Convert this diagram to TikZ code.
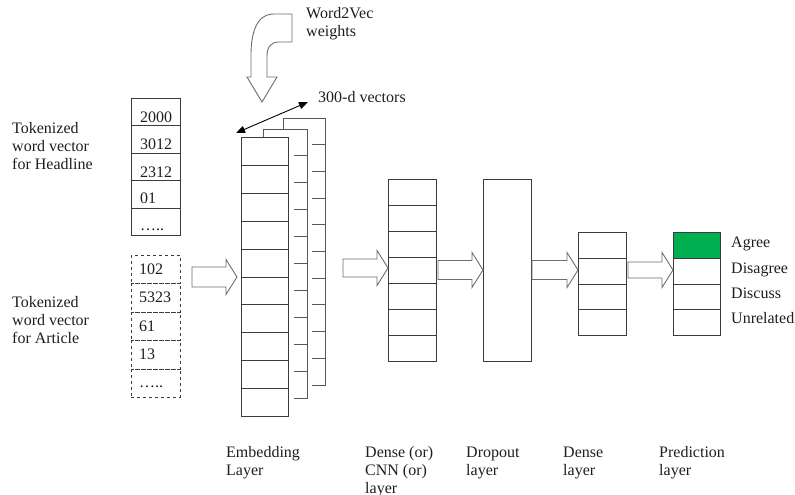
\documentclass[tikz,border=0pt]{standalone}
\usepackage{fontspec}
\setmainfont{Liberation Serif}
\usetikzlibrary{arrows.meta}
\definecolor{boxc}{HTML}{3C3C3C}
\definecolor{arrc}{HTML}{6E6E6E}
\definecolor{txtc}{HTML}{1E1E1E}
\definecolor{agreec}{HTML}{00B050}
\newcommand\blockarr[4]{% x1, x2, yc, half body
  \draw[barrow] (#1,#3-#4) -- (#2-11,#3-#4) -- (#2-11,#3-17.5) -- (#2,#3)
    -- (#2-11,#3+17.5) -- (#2-11,#3+#4) -- (#1,#3+#4) -- cycle;}
\begin{document}
\begin{tikzpicture}[x=1pt,y=-1pt,
  font=\fontsize{16}{18}\selectfont, text=txtc,
  cell/.style={draw=boxc, line width=0.9pt, inner sep=0pt, anchor=north west},
  dcell/.style={cell, dashed},
  lbl/.style={anchor=base west, inner sep=0pt, align=left},
  barrow/.style={draw=arrc, line width=0.9pt, fill=white},
  layer/.style={draw=arrc!80!black, line width=0.9pt}]
\useasboundingbox (0,0) rectangle (795,495);

% Headline tokens
\foreach \i/\t/\o in {1/2000/4,2/3012/4,3/2312/4,4/01/5,5/{…..}/5}{
  \node[cell, minimum width=49pt, minimum height=27.4pt] (h\i) at (131,{98+27.4*(\i-1)}) {};
  \node[lbl, xshift=9pt, yshift=\o pt] (ht\i) at (h\i.south west) {\t};
}
% Article tokens
\foreach \i/\t in {1/102,2/5323,3/61,4/13,5/{…..}}{
  \node[dcell, minimum width=49pt, minimum height=28.4pt] (a\i) at (131,{255+28.4*(\i-1)}) {};
  \node[lbl, xshift=8pt, yshift=10pt] (at\i) at (a\i.south west) {\t};
}

% Left labels (anchor = baseline of last line)
\node[lbl] (lh) at (12,169) {Tokenized\\word vector\\for Headline};
\node[lbl] (la) at (12,343) {Tokenized\\word vector\\for Article};

% Embedding back layers
\draw[layer] (283,129) -- (283,118) -- (325,118) -- (325,385) -- (312,385);
\foreach \k in {1,...,9}{ \draw[layer] (312,{118+26.7*\k}) -- (325,{118+26.7*\k}); }
\draw[layer] (263,137) -- (263,129) -- (307,129) -- (307,398) -- (294,398);
\foreach \k in {1,...,9}{ \draw[layer] (294,{129+26.9*\k}) -- (307,{129+26.9*\k}); }
% Embedding front layer
\foreach \i in {1,...,10}{
  \node[cell, fill=white, minimum width=47pt, minimum height=27.9pt] (e\i) at (241,{137+27.9*(\i-1)}) {};
}

% 300-d arrow
\coordinate (v1) at (236,133);
\coordinate (v2) at (308,102);
\draw[{Triangle[length=9pt,width=7pt]}-{Triangle[length=9pt,width=7pt]}, line width=0.9pt, black] (v1) -- (v2);
\node[lbl] (vl) at (318,102) {300-d vectors};

% Word2Vec curved arrow
\draw[barrow] (292,14) -- (274,14) .. controls (256,14) and (251,34) .. (251,55)
  -- (251,77) -- (247,77) -- (262,102) -- (277,77) -- (267,77) -- (267,56)
  .. controls (267,47) and (271,42) .. (279,42) -- (292,42) -- cycle;
\node[lbl] (w2v) at (306,37) {Word2Vec\\weights};

% Dense/CNN layer
\foreach \i in {1,...,7}{
  \node[cell, minimum width=48pt, minimum height=26pt] (c\i) at (388,{179+26*(\i-1)}) {};
}
% Dropout
\node[cell, minimum width=48pt, minimum height=182pt] (drop) at (483,179) {};
% Dense
\foreach \i in {1,...,4}{
  \node[cell, minimum width=48pt, minimum height=25.75pt] (d\i) at (578,{232+25.75*(\i-1)}) {};
}
% Prediction
\node[cell, fill=agreec, minimum width=47pt, minimum height=25.75pt] (p1) at (673,232) {};
\foreach \i in {2,...,4}{
  \node[cell, minimum width=47pt, minimum height=25.75pt] (p\i) at (673,{232+25.75*(\i-1)}) {};
}
\node[lbl] (l1) at (731,247) {Agree};
\node[lbl] (l2) at (731,273) {Disagree};
\node[lbl] (l3) at (731,298) {Discuss};
\node[lbl] (l4) at (731,323) {Unrelated};

% Block arrows
\blockarr{192}{237}{277}{10}
\blockarr{343}{388}{268}{9}
\blockarr{438}{483}{270}{9.5}
\blockarr{532}{578}{270}{9.5}
\blockarr{628}{673}{270}{8}

% Bottom labels (anchor = baseline of last line)
\node[lbl] (b1) at (226,475) {Embedding\\Layer};
\node[lbl] (b2) at (365,493) {Dense (or)\\CNN (or)\\layer};
\node[lbl] (b3) at (466,475) {Dropout\\layer};
\node[lbl] (b4) at (563,475) {Dense\\layer};
\node[lbl] (b5) at (659,475) {Prediction\\layer};
\end{tikzpicture}
\end{document}
